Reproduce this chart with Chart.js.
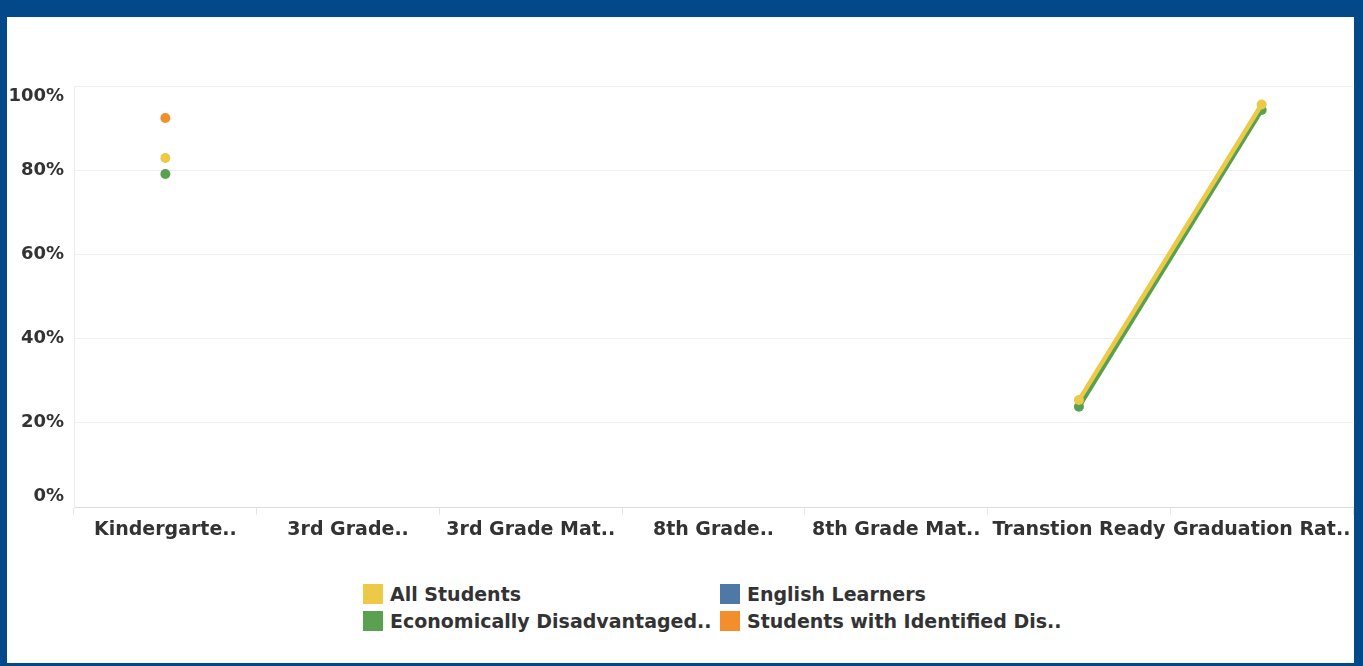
<!DOCTYPE html>
<html>
<head>
<meta charset="utf-8">
<script src="https://cdn.jsdelivr.net/npm/chart.js@4/dist/chart.umd.min.js"></script>
<style>
  body { margin:0; background:#03498a; width:1363px; height:666px; overflow:hidden; }
  #frame { position:absolute; left:7px; top:17px; width:1347px; height:646px; background:#fff; }
  #myChart { position:absolute; left:0; top:0; }
  #legend { position:absolute; left:356px; top:567px; width:720px; font-family:"DejaVu Sans",sans-serif; font-weight:bold; font-size:19px; color:#333; }
  .item { position:absolute; white-space:nowrap; line-height:20px; }
  .sw { display:inline-block; width:20px; height:20px; vertical-align:top; margin-right:7px; }
</style>
</head>
<body>
<div id="frame">
  <canvas id="myChart" width="1351" height="550"></canvas>
  <div id="legend"></div>
</div>
<script>
// categories (as truncated in the original)
var categories = ["Kindergarte..", "3rd Grade..", "3rd Grade Mat..", "8th Grade..", "8th Grade Mat..", "Transtion Ready", "Graduation Rat.."];
var yTicks = [0, 20, 40, 60, 80, 100];

var seriesNames = ["All Students", "English Learners", "Economically Disadvantaged..", "Students with Identified Dis.."];
var seriesColors = ["#edc948", "#4e79a7", "#59a14f", "#f28e2b"];

var allStudents = [82.9, null, null, null, null, 25.4, 95.6];
var englishLearners = [null, null, null, null, null, null, null];
var econDisadv = [79.1, null, null, null, null, 23.8, 94.3];
var studentsDis = [92.4, null, null, null, null, null, null];

var seriesValues = [allStudents, englishLearners, econDisadv, studentsDis];

var datasets = [];
for (var i = 0; i < seriesNames.length; i++) {
  datasets.push({
    label: seriesNames[i],
    data: seriesValues[i],
    borderColor: seriesColors[i],
    backgroundColor: seriesColors[i],
    borderWidth: 4.5,
    pointRadius: 5,
    pointHoverRadius: 5,
    pointBorderWidth: 0,
    spanGaps: false
  });
}

var fontMain = { family: "DejaVu Sans", weight: "bold", size: 19 };

const config = {
  type: 'line',
  data: { labels: categories, datasets: datasets },
  options: {
    responsive: false,
    animation: false,
    layout: { padding: { top: 69, right: 1, left: 0, bottom: 0 } },
    plugins: { legend: { display: false }, tooltip: { enabled: false } },
    scales: {
      x: {
        offset: true,
        grid: { display: true, drawOnChartArea: false, drawTicks: true, tickLength: 8, offset: true, color: '#e6e6e6' },
        border: { display: true, color: '#dcdcdc', dash: [2, 2] },
        ticks: { color: '#333', font: fontMain, maxRotation: 0, autoSkip: false, padding: 4 },
        afterFit: function (scale) {
          scale.height = 60;
          scale.paddingLeft = 0;
          scale.paddingRight = 0;
        }
      },
      y: {
        min: 0, max: 100,
        afterBuildTicks: function (scale) { scale.ticks = yTicks.map(function (v) { return { value: v }; }); },
        grid: {
          drawTicks: false,
          color: function (ctx) { return ctx.tick && ctx.tick.value === 0 ? 'rgba(0,0,0,0)' : '#efefef'; }
        },
        border: { display: true, color: '#ececec' },
        ticks: { color: '#333', font: { family: "DejaVu Sans", weight: "bold", size: 18 }, padding: 10,
          // edge labels sit inside the axis range, like the original
          callback: function (v) {
            if (v === 100) return ['', v + '%'];
            if (v === 0) return [v + '%', ''];
            return v + '%';
          } },
        afterFit: function (scale) { scale.width = 67; }
      }
    }
  }
};

const myChart = new Chart(document.getElementById('myChart'), config);

// legend in two columns like the original
var legend = document.getElementById('legend');
var spots = [[0, 0], [357, 0], [0, 27], [357, 27]];
for (var i = 0; i < seriesNames.length; i++) {
  legend.innerHTML += `<div class="item" style="left:${spots[i][0]}px;top:${spots[i][1]}px"><span class="sw" style="background:${seriesColors[i]}"></span>${seriesNames[i]}</div>`;
}
</script>
</body>
</html>
